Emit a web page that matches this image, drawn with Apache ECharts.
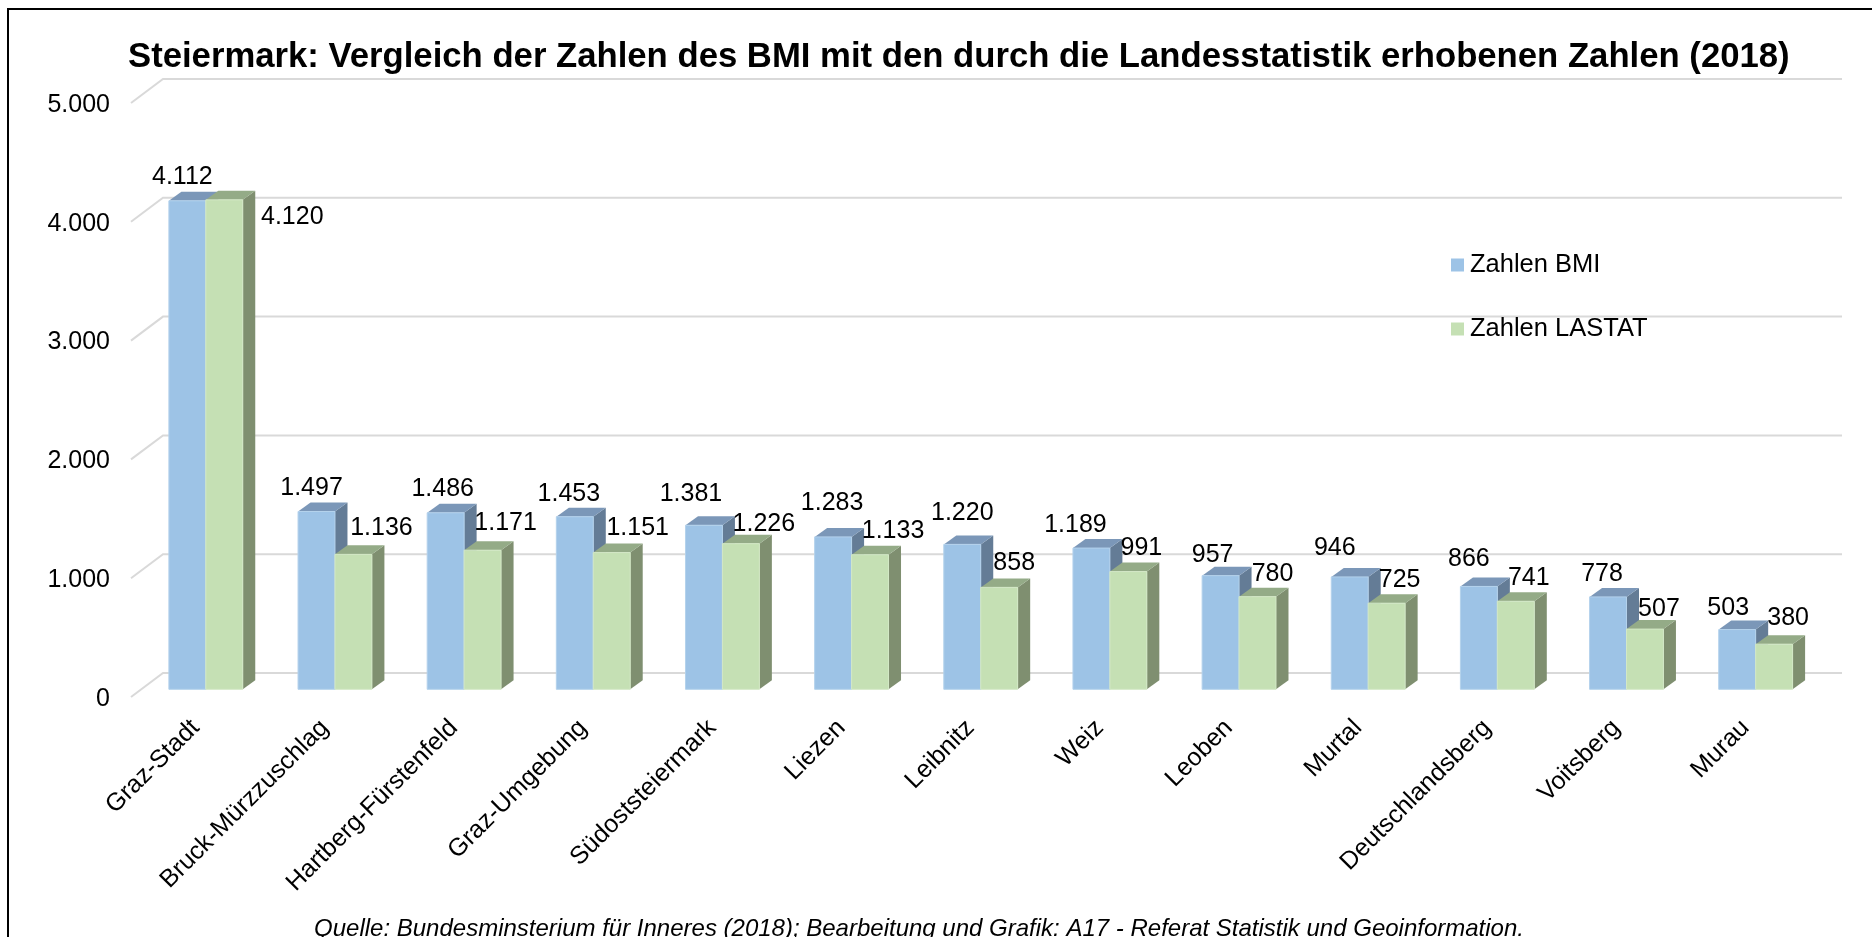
<!doctype html>
<html lang="de">
<head>
<meta charset="utf-8">
<title>Steiermark: Vergleich BMI / LASTAT</title>
<style>
    html, body { margin: 0; padding: 0; background: #fff; }
    #main { width: 1872px; height: 937px; }
</style>
</head>
<body>
<div id="main"></div>
<script src="https://cdn.jsdelivr.net/npm/echarts@6/dist/echarts.min.js"></script>
<script>
var bezirke = ['Graz-Stadt', 'Bruck-Mürzzuschlag', 'Hartberg-Fürstenfeld', 'Graz-Umgebung', 'Südoststeiermark', 'Liezen', 'Leibnitz', 'Weiz', 'Leoben', 'Murtal', 'Deutschlandsberg', 'Voitsberg', 'Murau'];
var zahlenBMI = [4112, 1497, 1486, 1453, 1381, 1283, 1220, 1189, 957, 946, 866, 778, 503];
var zahlenLASTAT = [4120, 1136, 1171, 1151, 1226, 1133, 858, 991, 780, 725, 741, 507, 380];
var yTicks = [0, 1000, 2000, 3000, 4000, 5000];

var fontName = '"Liberation Sans", Arial, sans-serif';
var depthX = 32, depthY = 24;   // Tiefe des 3D-Bodens
var barShift = 0.32;            // Balken stehen nicht ganz vorne
var barDepthX = 12.5, barDepthY = 9;
var tickDrop = 2;               // Achsenzahlen sitzen etwas unter der Linie

// Beschriftungen sind im Original einzeln verschoben (dx, dy zur Balkenoberkante)
var nudgeBMI = [[-5, -24], [-5, -23], [-3, -24], [-6, -23], [-13, -31], [-1, -34], [0, -31], [-16, -23], [-8, -21], [-15, -29], [-10, -27], [-6, -23], [-9, -21]];
var nudgeLASTAT = [[68, 17], [28, -26], [23, -27], [26, -24], [23, -20], [23, -24], [15, -24], [13, -23], [15, -23], [13, -23], [13, -23], [14, -20], [14, -26]];

// 1000er-Punkt, wie im Original
function fmt(v) {
    return String(v).replace(/\B(?=(\d{3})+$)/g, '.');
}

// Wand-Linien: kurze Diagonale links + Linie an der Rueckwand
function renderWall(params, api) {
    var p = api.coord([0, api.value(0)]);
    var cs = params.coordSys;
    var y = p[1] - tickDrop;
    return {
        type: 'polyline',
        shape: { points: [[cs.x, y], [cs.x + depthX, y - depthY], [cs.x + cs.width + depthX, y - depthY]] },
        style: { fill: null, stroke: '#d9d9d9', lineWidth: 2 },
        silent: true
    };
}

function makeBar(side, colors, nudge) {
    return function (params, api) {
        var val = api.value(1);
        var top = api.coord([api.value(0), val]);
        var base = api.coord([api.value(0), 0]);
        var w = api.size([1, 0])[0] * 0.286;
        var sx = depthX * barShift, sy = depthY * barShift + tickDrop;
        var x0 = top[0] + sx + (side < 0 ? -w : 0);
        var x1 = x0 + w;
        var yT = top[1] - sy, yB = base[1] - sy;
        var off = nudge[params.dataIndex];
        return {
            type: 'group',
            children: [
                { type: 'polygon', shape: { points: [[x1, yT], [x1 + barDepthX, yT - barDepthY], [x1 + barDepthX, yB - barDepthY], [x1, yB]] }, style: { fill: colors.side } },
                { type: 'polygon', shape: { points: [[x0, yT], [x0 + barDepthX, yT - barDepthY], [x1 + barDepthX, yT - barDepthY], [x1, yT]] }, style: { fill: colors.top } },
                { type: 'rect', shape: { x: x0, y: yT, width: w, height: yB - yT }, style: { fill: colors.front, stroke: colors.edge, lineWidth: 1 } },
                { type: 'text', z2: 50, style: { text: fmt(val), x: (x0 + x1) / 2 + off[0], y: yT + off[1], align: 'center', verticalAlign: 'middle', fill: '#000', font: '25px ' + fontName } }
            ]
        };
    };
}

var myChart = echarts.init(document.getElementById('main'), null, { renderer: 'canvas' });

var option = {
    backgroundColor: '#fff',
    animation: false,
    title: {
        text: 'Steiermark: Vergleich der Zahlen des BMI mit den durch die Landesstatistik erhobenen Zahlen (2018)',
        left: 123,
        top: 35,
        textStyle: { fontFamily: fontName, fontSize: 34.7, fontWeight: 'bold', color: '#000' }
    },
    legend: {
        orient: 'vertical',
        left: 1451,
        top: 252,
        padding: 0,
        itemWidth: 13,
        itemHeight: 13,
        itemGap: 38,
        icon: 'rect',
        data: ['Zahlen BMI', 'Zahlen LASTAT'],
        textStyle: { fontFamily: fontName, fontSize: 25.5, color: '#000', padding: [0, 0, 0, 1] }
    },
    grid: { left: 131, width: 1679, top: 103 + tickDrop, height: 594 },
    xAxis: {
        type: 'category',
        data: bezirke,
        axisLine: { show: false },
        axisTick: { show: false },
        axisLabel: { rotate: 45, margin: 25, interval: 0, fontFamily: fontName, fontSize: 25, color: '#000' }
    },
    yAxis: {
        type: 'value',
        min: 0,
        max: 5000,
        interval: 1000,
        axisLine: { show: false },
        axisTick: { show: false },
        splitLine: { show: false },
        axisLabel: { margin: 21, fontFamily: fontName, fontSize: 25, color: '#000', formatter: fmt }
    },
    series: [
        {
            type: 'custom',
            name: 'wall',
            data: yTicks,
            encode: { y: 0 },
            renderItem: renderWall,
            z: 1
        },
        {
            type: 'custom',
            name: 'Zahlen BMI',
            data: zahlenBMI.map(function (v, i) { return [i, v]; }),
            encode: { x: 0, y: 1 },
            itemStyle: { color: '#9dc3e6' },
            renderItem: makeBar(-1, { front: '#9dc3e6', top: '#7b97b8', side: '#647c96', edge: '#b4d2ec' }, nudgeBMI),
            z: 2
        },
        {
            type: 'custom',
            name: 'Zahlen LASTAT',
            data: zahlenLASTAT.map(function (v, i) { return [i, v]; }),
            encode: { x: 0, y: 1 },
            itemStyle: { color: '#c5e0b4' },
            renderItem: makeBar(1, { front: '#c5e0b4', top: '#94ab87', side: '#7f8f70', edge: '#d3e8c6' }, nudgeLASTAT),
            z: 3
        }
    ],
    graphic: [
        { type: 'polyline', silent: true, shape: { points: [[8, 937], [8, 9], [1872, 9]] }, style: { fill: null, stroke: '#000', lineWidth: 2 } },
        { type: 'text', x: 919, y: 917, silent: true, style: { text: 'Quelle: Bundesminsterium für Inneres (2018); Bearbeitung und Grafik: A17 - Referat Statistik und Geoinformation.', align: 'center', fill: '#000', font: 'italic 24px ' + fontName } }
    ]
};
myChart.setOption(option);
</script>
</body>
</html>
